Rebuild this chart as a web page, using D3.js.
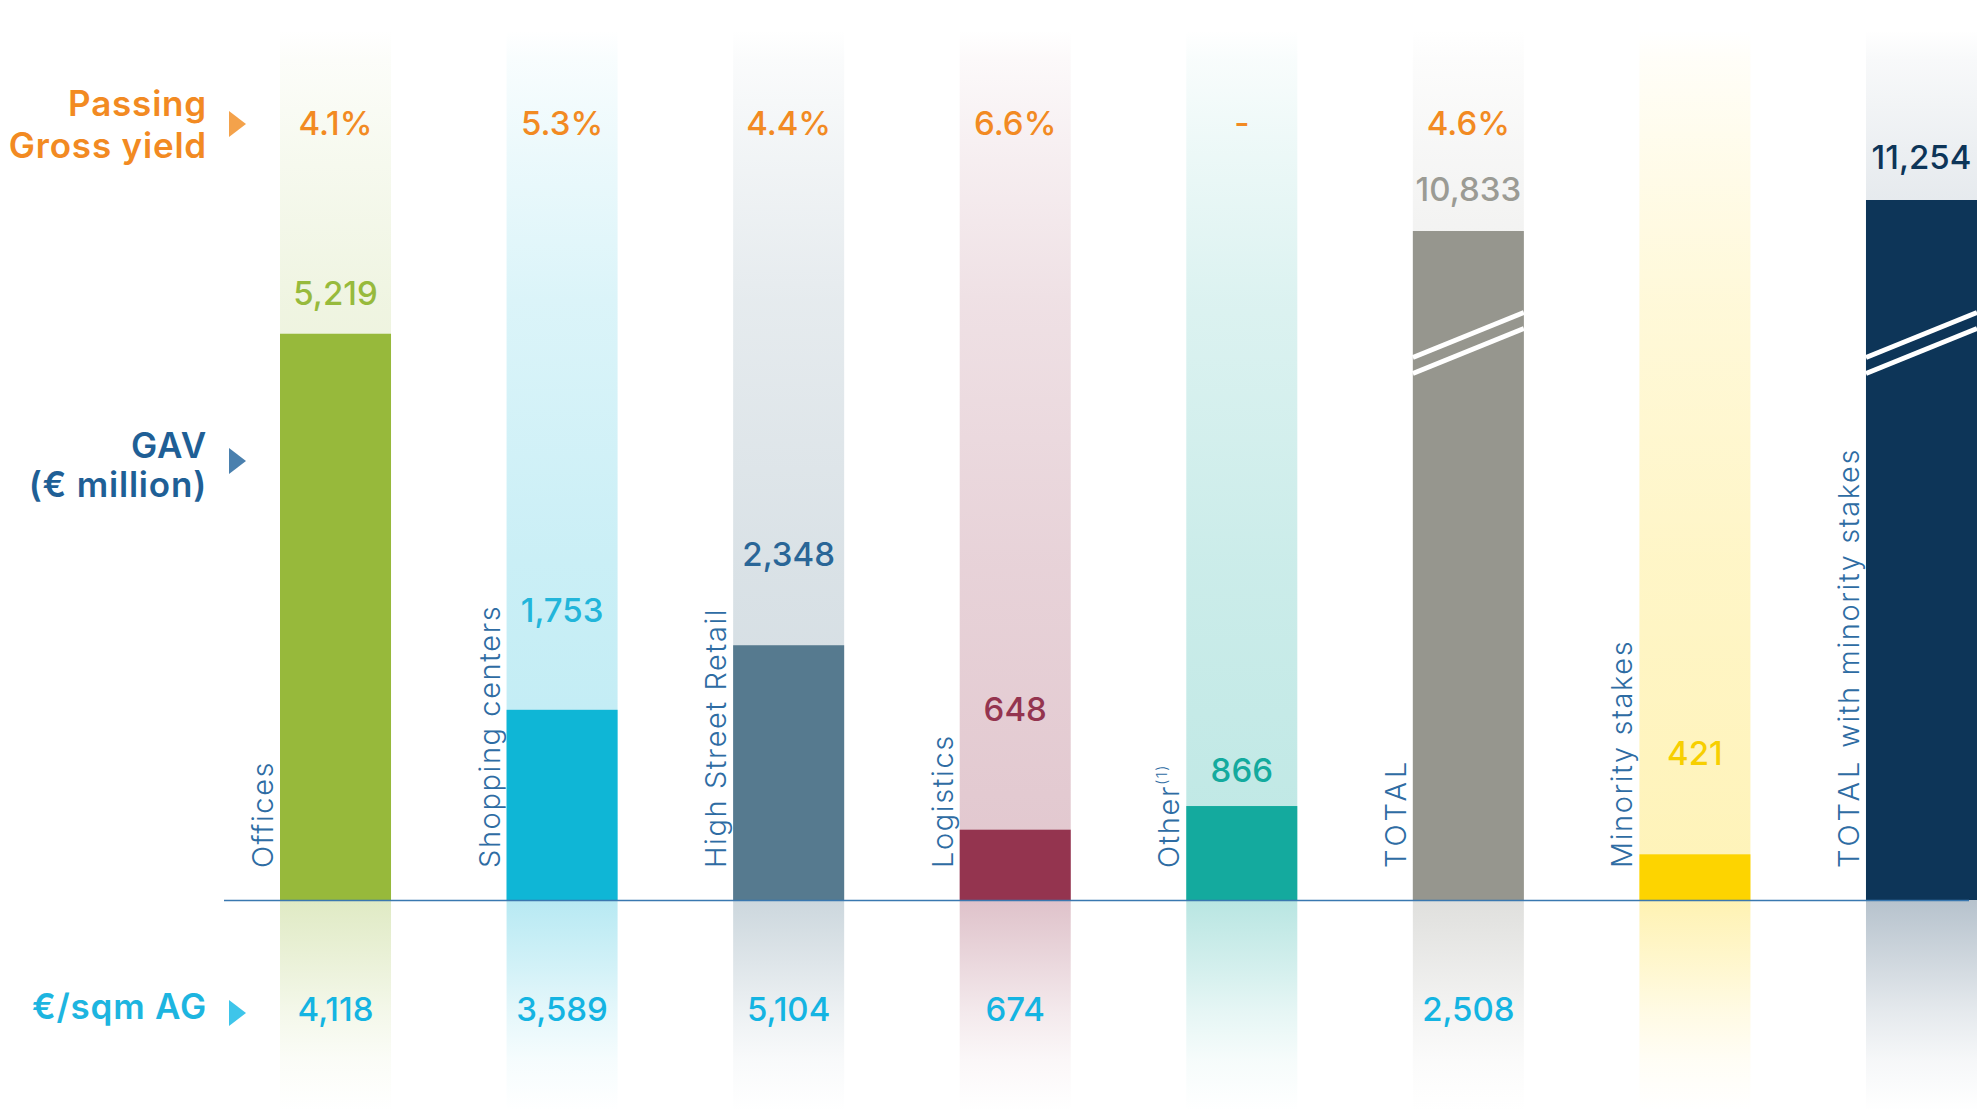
<!DOCTYPE html>
<html>
<head>
<meta charset="utf-8">
<script src="https://cdn.jsdelivr.net/npm/d3@7"></script>
<style>
  html, body { margin: 0; padding: 0; background: #ffffff; }
  svg { display: block; font-family: Inter, "Noto Sans", sans-serif; }
</style>
</head>
<body>
<svg id="chart" width="1988" height="1112"></svg>
<script>
// ---- data ----
const categories = ["Offices", "Shopping centers", "High Street Retail", "Logistics",
                    "Other", "TOTAL", "Minority stakes", "TOTAL with minority stakes"];
const gav = [5219, 1753, 2348, 648, 866, 10833, 421, 11254];          // € million
const passingYield = [4.1, 5.3, 4.4, 6.6, null, 4.6];                 // %, null = not applicable
const pricePerSqm = [4118, 3589, 5104, 674, null, 2508];              // €/sqm above ground
const brokenBars = ["TOTAL", "TOTAL with minority stakes"];

// ---- styling ----
const barColors   = ["#97b93b", "#0fb6d6", "#567a8f", "#94344f", "#14aa9e", "#96968e", "#fdd400", "#0d3558"];
const valueColors = ["#97ba3c", "#22b5da", "#2a6697", "#94344f", "#14aa9e", "#9b9b94", "#f7cf00", "#0d3558"];
const valueLift   = [41, 100, 91, 121, 36, 42, 101, 43];   // label centre above bar top, px

const W = 1988, H = 1112;
const baseline = 900;
const colTop = 30;

const svg = d3.select("#chart");
const defs = svg.append("defs");

const x = d3.scaleBand()
  .domain(categories)
  .range([280, 1977])
  .paddingInner(0.51)
  .paddingOuter(0);

const y = d3.scaleLinear().domain([0, 1000]).range([baseline, baseline - 108.5]);
// totals use a broken axis: the lower part of the bar is hidden by the break marks
const yBreak = d3.scaleLinear().domain([0, 11254]).range([1029, 200]);

const yOf = (c, v) => brokenBars.includes(c) ? yBreak(v) : y(v);

// ---- column gradients ----
const upStops = [[0, 0], [0.035, 0.03], [0.14, 0.08], [0.31, 0.15], [0.61, 0.22], [1, 0.28]];
const dnStops = [[0, 0.3], [0.28, 0.2], [0.52, 0.11], [0.75, 0.04], [1, 0]];

categories.forEach((c, i) => {
  const gu = defs.append("linearGradient").attr("id", "up" + i)
    .attr("gradientUnits", "userSpaceOnUse")
    .attr("x1", 0).attr("x2", 0).attr("y1", colTop).attr("y2", baseline);
  upStops.forEach(([o, a]) => gu.append("stop").attr("offset", o)
    .attr("stop-color", barColors[i]).attr("stop-opacity", a));
  const gd = defs.append("linearGradient").attr("id", "dn" + i)
    .attr("gradientUnits", "userSpaceOnUse")
    .attr("x1", 0).attr("x2", 0).attr("y1", baseline).attr("y2", H);
  dnStops.forEach(([o, a]) => gd.append("stop").attr("offset", o)
    .attr("stop-color", barColors[i]).attr("stop-opacity", a));
});

// background columns
svg.append("g").selectAll("rect").data(categories).join("rect")
  .attr("x", d => x(d)).attr("width", x.bandwidth())
  .attr("y", colTop).attr("height", baseline - colTop)
  .attr("fill", (d, i) => `url(#up${i})`);
svg.append("g").selectAll("rect").data(categories).join("rect")
  .attr("x", d => x(d)).attr("width", x.bandwidth())
  .attr("y", baseline).attr("height", H - baseline)
  .attr("fill", (d, i) => `url(#dn${i})`);

// ---- bars ----
svg.append("g").selectAll("rect").data(categories).join("rect")
  .attr("x", d => x(d)).attr("width", x.bandwidth())
  .attr("y", (d, i) => yOf(d, gav[i]))
  .attr("height", (d, i) => baseline - yOf(d, gav[i]))
  .attr("fill", (d, i) => barColors[i]);

// axis break marks on the total bars
const breakY = 335, breakRise = 45, breakGap = 16;
const brk = svg.append("g").attr("stroke", "#ffffff").attr("stroke-width", 5);
brokenBars.forEach(c => {
  [0, breakGap].forEach(off => {
    brk.append("line")
      .attr("x1", x(c)).attr("y1", breakY + breakRise / 2 + off)
      .attr("x2", x(c) + x.bandwidth()).attr("y2", breakY - breakRise / 2 + off);
  });
});

// baseline
svg.append("line")
  .attr("x1", 224).attr("x2", 1969)
  .attr("y1", baseline + 0.5).attr("y2", baseline + 0.5)
  .attr("stroke", "#3a78b0").attr("stroke-width", 1.6);

// ---- category labels (vertical) ----
const catG = svg.append("g")
  .attr("fill", "#2e6ca3").attr("font-size", 29).attr("font-weight", 300)
  .attr("letter-spacing", 1.6);
categories.forEach(c => {
  const t = catG.append("text")
    .attr("transform", `translate(${x(c) - 7},868) rotate(-90)`)
    .attr("text-anchor", "start");
  if (c === "Other") {
    t.append("tspan").text("Other");
    t.append("tspan").attr("font-size", 15).attr("dy", -12).text("(1)");
  } else if (c.startsWith("TOTAL")) {
    t.append("tspan").attr("letter-spacing", 4).text("TOTAL");
    t.append("tspan").text(c.slice(5));
  } else {
    t.text(c);
  }
});

const fmt = d3.format(",");
const cx = c => x(c) + x.bandwidth() / 2;

// ---- GAV values ----
svg.append("g").attr("font-size", 33).attr("font-weight", 500).attr("text-anchor", "middle")
  .selectAll("text").data(categories).join("text")
  .attr("x", d => cx(d))
  .attr("y", (d, i) => yOf(d, gav[i]) - valueLift[i] + 12)
  .attr("fill", (d, i) => valueColors[i])
  .text((d, i) => fmt(gav[i]));

// ---- passing gross yield ----
svg.append("g").attr("font-size", 33).attr("font-weight", 500).attr("text-anchor", "middle")
  .attr("fill", "#f28a22")
  .selectAll("text").data(passingYield).join("text")
  .attr("x", (d, i) => cx(categories[i]))
  .attr("y", 135)
  .text(d => d == null ? "-" : d.toFixed(1) + "%");

// ---- €/sqm ----
svg.append("g").attr("font-size", 33).attr("font-weight", 500).attr("text-anchor", "middle")
  .attr("fill", "#14b4e2")
  .selectAll("text").data(pricePerSqm).join("text")
  .attr("x", (d, i) => cx(categories[i]))
  .attr("y", 1021)
  .text(d => d == null ? "" : fmt(d));

// ---- row headers with arrows ----
const heads = svg.append("g").attr("font-size", 35).attr("font-weight", 600)
  .attr("letter-spacing", 0.8).attr("text-anchor", "end");
heads.append("text").attr("x", 207).attr("y", 116).attr("fill", "#f28a22").text("Passing");
heads.append("text").attr("x", 207).attr("y", 158).attr("fill", "#f28a22").text("Gross yield");
heads.append("text").attr("x", 207).attr("y", 458).attr("fill", "#1f5f96").text("GAV");
heads.append("text").attr("x", 207).attr("y", 497).attr("fill", "#1f5f96").text("(€ million)");
heads.append("text").attr("x", 207).attr("y", 1019).attr("fill", "#1db5e0").text("€/sqm AG");

const arrow = (cy, color) => svg.append("path")
  .attr("d", `M229,${cy - 13}L246,${cy}L229,${cy + 13}Z`)
  .attr("fill", color);
arrow(124, "#f4a24b");
arrow(461, "#4a80ae");
arrow(1013, "#3ec5ea");
</script>
</body>
</html>
